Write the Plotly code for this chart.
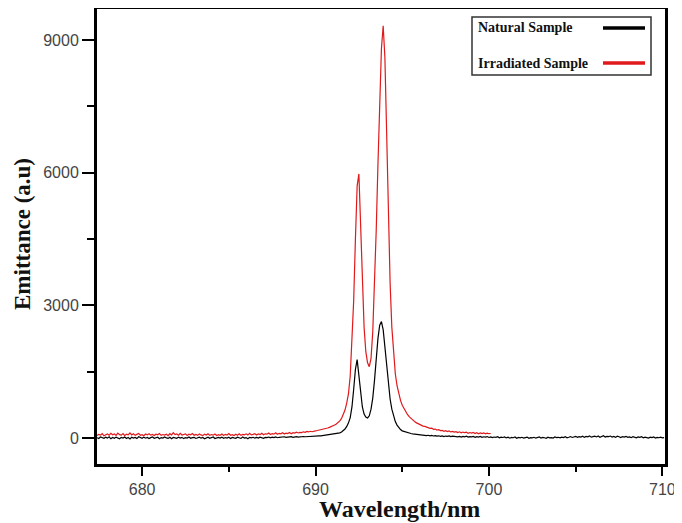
import plotly.graph_objects as go

# ---------------- data ----------------
STEP = 0.1  # nm sampling of the spectra

# Natural sample (black)
natural_base_start = 677.4
natural_base = [
    5, -15, 20, 0, -10, 15, -5, 25, -20, 10,
    -8, 18, 2, -18, 12, -2, 22, -12, 8, -22,
    15, -5, 10, -15, 25, 0, -10, 18, -6, 12,
    -14, 6, 20, -8, 2, 16, -18, 8, -4, 22,
    0, -12, 14, -20, 10, 4, -8, 18, -2, 12,
    -16, 8, -4, 20, -10, 6, 14, -12, 2, 18,
    -6, 10, -18, 4, 16, -8, 0, 22, -14, 6,
    12, -4, 18, -10, 8, -2, 14, -16, 10, 0,
    -8, 16, 4, -12, 20, -4, 8, -18, 12, 2,
    14, -6, 10, -2, 18, 4, -10, 12, 6, 20,
    2, 16, 8, 24, 4, 14, 20, 10, 26, 12,
    22, 16, 28, 14, 24, 30, 18, 28, 22, 32,
    26,
]
natural_peak_start = 689.5
natural_peak = [
    30, 36, 32, 40, 36, 42, 40, 48, 45, 52,
    50, 58, 62, 66, 72, 78, 85, 92, 102, 115,
    132, 160, 200, 260, 340, 460, 700, 1100, 1550, 1770,
    1450, 1000, 700, 540, 470, 452, 500, 650, 900, 1300,
    1800, 2250, 2550, 2630, 2450, 2050, 1600, 1200, 880, 650,
    480, 370, 290, 230, 190, 160, 145, 130, 118, 108,
    100, 92, 86, 80, 76, 70,
]
natural_tail_start = 696.1
natural_tail = [
    66, 58, 64, 52, 60, 48, 56, 44, 52, 40,
    48, 36, 46, 30, 42, 34, 44, 28, 38, 32,
    40, 24, 36, 20, 34, 26, 38, 18, 30, 22,
    32, 14, 28, 20, 34, 12, 26, 18, 30, 10,
    24, 6, 20, 14, 28, 2, 18, 10, 22, 0,
    16, -6, 12, 4, 20, -8, 10, 2, 14, -4,
    8, 18, -10, 6, 0, 14, -6, 10, 24, -2,
    12, 4, -8, 16, 2, 8, -4, 20, 6, 14,
    0, 18, 8, 26, 4, 16, 30, 10, 22, 36,
    14, 28, 20, 40, 12, 32, 24, 46, 18, 30,
    38, 22, 44, 16, 34, 48, 20, 36, 28, 42,
    18, 32, 12, 38, 26, 8, 30, 20, 36, 14,
    24, 6, 28, 16, 2, 22, 12, 26, 4, 18,
    10, -4, 16, 6, 20, -2, 12, 4, 18, 0, 8,
]

# Irradiated sample (red)
irradiated_base_start = 677.4
irradiated_base = [
    55, 80, 62, 95, 48, 70, 88, 60, 105, 72,
    90, 58, 110, 75, 64, 98, 52, 85, 70, 115,
    66, 92, 58, 80, 102, 60, 74, 50, 88, 68,
    95, 62, 78, 55, 84, 70, 100, 58, 76, 64,
    82, 50, 96, 68, 120, 74, 88, 60, 105, 66,
    78, 92, 55, 84, 70, 98, 62, 80, 58, 90,
    68, 52, 86, 64, 94, 58, 76, 62, 88, 55,
    72, 60, 90, 54, 80, 66, 98, 60, 74, 56,
    84, 62, 95, 58, 78, 70, 92, 64, 102, 68,
    80, 96, 66, 88, 74, 105, 70, 92, 84, 110,
    78, 98, 86, 115, 82, 104, 92, 118, 88, 110,
    100, 124, 96, 118, 108, 130, 112, 126, 120, 138,
    128, 145, 135, 150, 140, 158,
]
irradiated_peak_start = 690.0
irradiated_peak = [
    160, 168, 175, 180, 190, 200, 212, 225, 238, 250,
    270, 290, 315, 345, 385, 440, 520, 630, 790, 1000,
    1400, 2100, 3100, 4500, 5700, 5970, 4900, 3500, 2500, 1950,
    1700, 1610, 1800, 2400, 3400, 4700, 6200, 7700, 8800, 9320,
    8600, 6900, 5000, 3500, 2500, 1850, 1450, 1180, 980, 850,
    740, 660, 590, 530, 480, 440, 400, 375, 345, 325,
    300, 290, 268, 262, 240, 236, 215, 222, 195, 200,
    178, 185, 165, 172, 150, 162, 145, 158, 135, 148,
    130, 142, 120, 138, 115, 132, 118, 128, 105, 122,
    110, 125, 100, 118, 95, 112, 98, 115, 92, 108,
    95, 100,
]

x_ticks = [680, 690, 700, 710]
y_ticks = [0, 3000, 6000, 9000]
series_names = ["Natural Sample", "Irradiated Sample"]
series_colors = ["#000000", "#e0191b"]
x_title = "Wavelength/nm"
y_title = "Emittance (a.u)"


def segment_x(start, values):
    return [round(start + STEP * k, 2) for k in range(len(values))]


nat_x = (segment_x(natural_base_start, natural_base)
         + segment_x(natural_peak_start, natural_peak)
         + segment_x(natural_tail_start, natural_tail))
nat_y = natural_base + natural_peak + natural_tail

irr_x = (segment_x(irradiated_base_start, irradiated_base)
         + segment_x(irradiated_peak_start, irradiated_peak))
irr_y = irradiated_base + irradiated_peak

# ---------------- figure ----------------
# The page body has an 8px margin, so the figure is drawn 8px right/down.
OFF = 8
W, H = 682 - OFF, 523 - OFF
L, R, T, B = 97 - OFF, 665 - OFF, 9 - OFF, 464 - OFF  # plot-area edges (figure px)

fig = go.Figure()
fig.add_trace(go.Scatter(x=nat_x, y=nat_y, mode="lines", name=series_names[0],
                         line=dict(color=series_colors[0], width=1.2), showlegend=False))
fig.add_trace(go.Scatter(x=irr_x, y=irr_y, mode="lines", name=series_names[1],
                         line=dict(color=series_colors[1], width=1.2), showlegend=False))

tick_font = dict(family="Liberation Sans Narrow, Arial Narrow, Liberation Sans, sans-serif",
                 size=16, color="#444444")
serif = "Liberation Serif, Times New Roman, serif"

fig.update_xaxes(
    range=[677.4, 710.15], tickvals=x_ticks, ticks="outside", ticklen=9, tickwidth=2,
    tickcolor="black", showline=True, linewidth=3, linecolor="black", mirror=True,
    showgrid=False, zeroline=False, tickfont=tick_font, automargin=False,
    minor=dict(dtick=5, tick0=680, ticks="outside", ticklen=5, tickwidth=2,
               tickcolor="black", showgrid=False),
)
fig.update_yaxes(
    range=[-590, 9700], tickvals=y_ticks, ticks="outside", ticklen=12, tickwidth=2,
    tickcolor="black", showline=True, linewidth=3, linecolor="black", mirror=True,
    showgrid=False, zeroline=False, tickfont=tick_font, automargin=False,
    minor=dict(dtick=1500, tick0=0, ticks="outside", ticklen=7, tickwidth=2,
               tickcolor="black", showgrid=False),
)


def px_x(p):  # screen px -> paper fraction
    return (p - OFF - L) / (R - L)


def px_y(p):
    return (B - (p - OFF)) / (B - T)


# axis titles
fig.add_annotation(xref="paper", yref="paper", x=px_x(399), y=px_y(509),
                   text=f"<b>{x_title}</b>", showarrow=False, xanchor="center",
                   yanchor="middle", font=dict(family=serif, size=24, color="#111111"))
fig.add_annotation(xref="paper", yref="paper", x=px_x(22), y=px_y(234),
                   text=f"<b>{y_title}</b>", showarrow=False, textangle=-90,
                   xanchor="center", yanchor="middle",
                   font=dict(family=serif, size=23, color="#111111"))

# legend box (text left, line sample right, as in the reference)
legend_font = dict(family=serif, size=14, color="#111111")
fig.add_shape(type="rect", xref="paper", yref="paper",
              x0=px_x(472), x1=px_x(651), y0=px_y(75), y1=px_y(17),
              line=dict(color="#333333", width=1.5), fillcolor="white", layer="above")
for i, (name, col) in enumerate(zip(series_names, series_colors)):
    yc = px_y(28 + 35 * i)
    fig.add_annotation(xref="paper", yref="paper", x=px_x(476), y=yc,
                       text=f"<b>{name}</b>", showarrow=False, xanchor="left",
                       yanchor="middle", font=legend_font)
    fig.add_shape(type="line", xref="paper", yref="paper",
                  x0=px_x(603), x1=px_x(645), y0=yc, y1=yc,
                  line=dict(color=col, width=3.5), layer="above")

fig.update_layout(
    width=W, height=H,
    margin=dict(l=L, r=W - R, t=T, b=H - B, autoexpand=False),
    plot_bgcolor="white", paper_bgcolor="white",
    showlegend=False,
)

fig.write_html("out.html")
